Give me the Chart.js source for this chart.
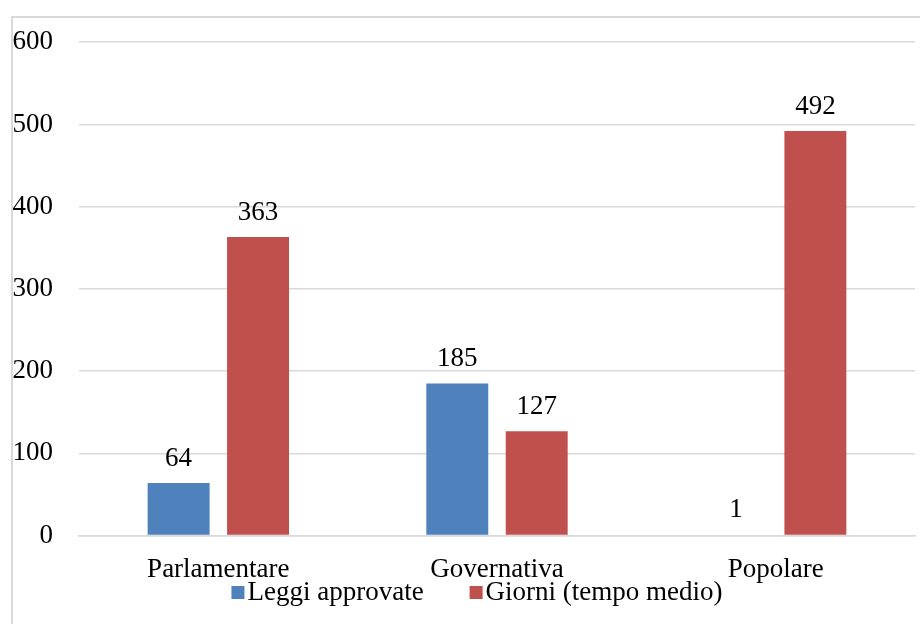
<!DOCTYPE html>
<html>
<head>
<meta charset="utf-8">
<script src="https://cdn.jsdelivr.net/npm/chart.js@4"></script>
<style>
  html, body { margin: 0; padding: 0; background: #fff; }
  #wrap { position: relative; width: 920px; height: 624px; }
</style>
</head>
<body>
<div id="wrap"><canvas id="chart" width="920" height="624"></canvas></div>
<script>
// dati
const categories = ['Parlamentare', 'Governativa', 'Popolare'];
const leggiApprovate = [64, 185, 1];
const giorniMedi = [363, 127, 492];
const yTicks = [0, 100, 200, 300, 400, 500, 600];

const FONT = "'Liberation Serif', 'Times New Roman', serif";
const SIZE = 27;

// cornice grigia del grafico
const frame = {
    id: 'frame',
    beforeDraw(chart) {
        const ctx = chart.ctx;
        ctx.save();
        ctx.strokeStyle = '#d9d9d9';
        ctx.lineWidth = 2;
        ctx.strokeRect(12, 17, 940, 640);
        ctx.restore();
    }
};

// etichette dei valori sopra le barre
const valueLabels = {
    id: 'valueLabels',
    afterDatasetsDraw(chart) {
        const ctx = chart.ctx;
        ctx.save();
        ctx.font = SIZE + 'px ' + FONT;
        ctx.fillStyle = '#000';
        ctx.textAlign = 'center';
        ctx.textBaseline = 'bottom';
        chart.data.datasets.forEach((ds, i) => {
            chart.getDatasetMeta(i).data.forEach((bar, j) => {
                ctx.fillText(ds.data[j], bar.x, bar.y - 11);
            });
        });
        ctx.restore();
    }
};

// legenda in basso, quadratini attaccati al testo come in Excel
const bottomLegend = {
    id: 'bottomLegend',
    afterDraw(chart) {
        const ctx = chart.ctx;
        const area = chart.chartArea;
        const box = 13, gap = 3, space = 46;
        ctx.save();
        ctx.font = SIZE + 'px ' + FONT;
        const items = chart.data.datasets.map(ds => ({
            text: ds.label,
            color: ds.backgroundColor,
            w: ctx.measureText(ds.label).width
        }));
        let total = 0;
        items.forEach((it, i) => { total += box + gap + it.w + (i ? space : 0); });
        let x = (area.left + area.right) / 2 - 20 - total / 2;
        const y = 593;
        ctx.textBaseline = 'middle';
        ctx.textAlign = 'left';
        items.forEach(it => {
            ctx.fillStyle = it.color;
            ctx.fillRect(x, y - 7, box, box);
            ctx.fillStyle = '#000';
            ctx.fillText(it.text, x + box + gap, y);
            x += box + gap + it.w + space;
        });
        ctx.restore();
    }
};

new Chart(document.getElementById('chart'), {
    type: 'bar',
    data: {
        labels: categories,
        datasets: [{
            label: 'Leggi approvate',
            data: leggiApprovate,
            backgroundColor: '#4F81BD'
        }, {
            label: 'Giorni (tempo medio)',
            data: giorniMedi,
            backgroundColor: '#C0504D'
        }]
    },
    options: {
        responsive: false,
        animation: false,
        events: [],
        categoryPercentage: 0.57,
        barPercentage: 0.78,
        layout: {
            padding: { left: 11, right: 5, top: 35, bottom: 28 }
        },
        plugins: {
            legend: { display: false },
            tooltip: { enabled: false }
        },
        scales: {
            x: {
                grid: { display: false },
                border: { color: '#d9d9d9', width: 1.5 },
                ticks: {
                    color: '#000',
                    padding: 10,
                    font: { family: FONT, size: SIZE }
                }
            },
            y: {
                min: 0,
                max: 600,
                afterFit(scale) { scale.width = 68; },
                afterBuildTicks(scale) {
                    scale.ticks = yTicks.map(v => ({ value: v }));
                },
                border: { display: false },
                grid: { color: '#d9d9d9', lineWidth: 1.5, drawTicks: false },
                ticks: {
                    color: '#000',
                    padding: 26,
                    font: { family: FONT, size: SIZE }
                }
            }
        }
    },
    plugins: [frame, valueLabels, bottomLegend]
});
</script>
</body>
</html>
